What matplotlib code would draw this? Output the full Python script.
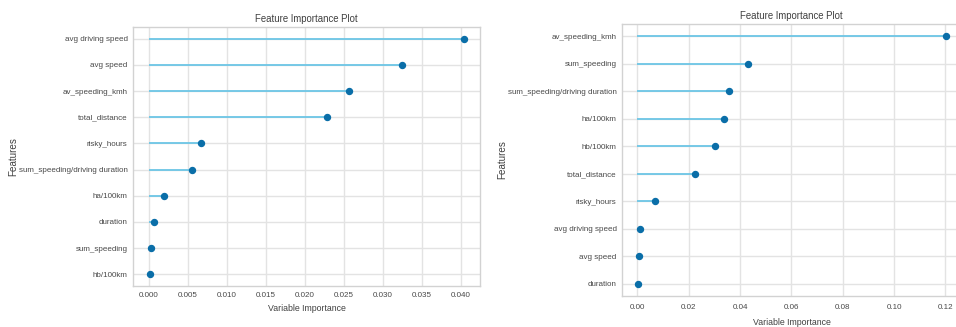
import matplotlib
matplotlib.use("Agg")
import matplotlib.pyplot as plt

plt.rcParams['font.family'] = ['Liberation Sans', 'DejaVu Sans']

# Left panel data (listed top to bottom)
left_features = ["avg driving speed", "avg speed", "av_speeding_kmh", "total_distance",
                 "risky_hours", "sum_speeding/driving duration", "ha/100km",
                 "duration", "sum_speeding", "hb/100km"]
left_values = [0.0404, 0.0324, 0.0256, 0.0228, 0.0067, 0.0056, 0.0020, 0.00064, 0.0003, 0.0002]
left_ticks = [0.000, 0.005, 0.010, 0.015, 0.020, 0.025, 0.030, 0.035, 0.040]
left_ticklabels = ["0.000", "0.005", "0.010", "0.015", "0.020", "0.025", "0.030", "0.035", "0.040"]

# Right panel data (listed top to bottom)
right_features = ["av_speeding_kmh", "sum_speeding", "sum_speeding/driving duration",
                  "ha/100km", "hb/100km", "total_distance", "risky_hours",
                  "avg driving speed", "avg speed", "duration"]
right_values = [0.1202, 0.0431, 0.0355, 0.0336, 0.0304, 0.0223, 0.0067, 0.0010, 0.0008, 0.0002]
right_ticks = [0.00, 0.02, 0.04, 0.06, 0.08, 0.10, 0.12]
right_ticklabels = ["0.00", "0.02", "0.04", "0.06", "0.08", "0.10", "0.12"]

title = "Feature Importance Plot"
xlabel = "Variable Importance"
ylabel = "Features"

STEM = "#6cc6e6"
DOT = "#0a6ea8"
GRID = "#e3e3e3"
SPINE = "#d2d2d2"
TXT = "#484848"

fig = plt.figure(figsize=(9.56, 3.27), dpi=100)
ax1 = fig.add_axes([0.1391, 0.1254, 0.3630, 0.7920])
ax2 = fig.add_axes([0.6506, 0.0948, 0.3550, 0.8318])


def draw(ax, feats, vals, ticks, ticklabels, tpad, xlpad):
    n = len(feats)
    ypos = list(range(n))[::-1]
    ax.set_axisbelow(True)
    ax.hlines(y=ypos, xmin=0, xmax=vals, color=STEM, linewidth=1.3, zorder=2)
    ax.plot(vals, ypos, "o", color=DOT, markersize=4.3, zorder=3)
    ax.set_yticks(ypos)
    ax.set_yticklabels(feats)
    ax.set_xticks(ticks)
    ax.set_xticklabels(ticklabels)
    ax.grid(True, color=GRID, linewidth=1.0)
    for s in ax.spines.values():
        s.set_color(SPINE)
        s.set_linewidth(1.0)
    ax.tick_params(axis="both", length=0, labelsize=5.8, labelcolor=TXT)
    ax.tick_params(axis="y", pad=3.8)
    ax.tick_params(axis="x", pad=tpad)
    ax.set_title(title, fontsize=6.9, color="#404040", pad=3.8)
    ax.set_xlabel(xlabel, fontsize=6.3, color="#404040", labelpad=xlpad)
    ax.set_ylabel(ylabel, fontsize=7.1, color="#404040", labelpad=0.4)
    ax.set_facecolor("white")


draw(ax1, left_features, left_values, left_ticks, left_ticklabels, 4.5, 3.5)
draw(ax2, right_features, right_values, right_ticks, right_ticklabels, 6.0, 4.5)

fig.savefig("out.png", dpi=100, facecolor="white")
